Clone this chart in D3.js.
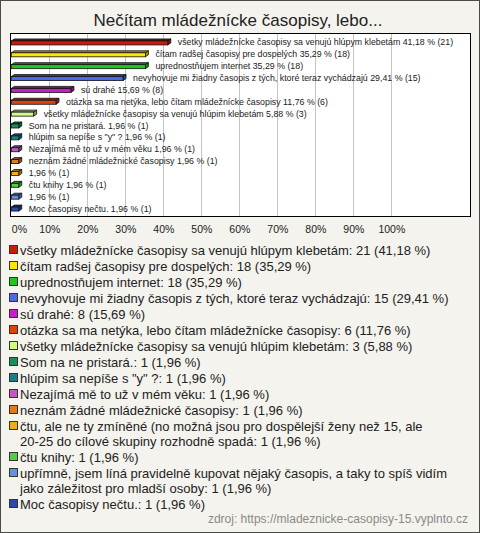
<!DOCTYPE html>
<html><head><meta charset="utf-8">
<script src="https://cdn.jsdelivr.net/npm/d3@7"></script>
<style>
html,body{margin:0;padding:0;background:#fff;}
svg{display:block;font-family:"Liberation Sans",Arial,sans-serif;}
</style></head>
<body>
<svg id="c" width="480" height="533"></svg>
<script>
const title = "Nečítam mládežnícke časopisy, lebo...";
const categories = [
  "všetky mládežnícke časopisy sa venujú hlúpym klebetám",
  "čítam radšej časopisy pre dospelých",
  "uprednostňujem internet",
  "nevyhovuje mi žiadny časopis z tých, ktoré teraz vychádzajú",
  "sú drahé",
  "otázka sa ma netýka, lebo čítam mládežnícke časopisy",
  "všetky mládežnícke časopisy sa venujú hlúpim klebetám",
  "Som na ne pristará.",
  "hlúpim sa nepíše s \"y\" ?",
  "Nezajímá mě to už v mém věku",
  "neznám žádné mládežnické časopisy",
  "čtu, ale ne ty zmíněné (no možná jsou pro dospělejší ženy než 15, ale 20-25 do cílové skupiny rozhodně spadá",
  "čtu knihy",
  "upřímně, jsem líná pravidelně kupovat nějaký časopis, a taky to spíš vidím jako záležitost pro mladší osoby",
  "Moc časopisy nečtu."
];
const barNames = [
  "všetky mládežnícke časopisy sa venujú hlúpym klebetám",
  "čítam radšej časopisy pre dospelých",
  "uprednostňujem internet",
  "nevyhovuje mi žiadny časopis z tých, ktoré teraz vychádzajú",
  "sú drahé",
  "otázka sa ma netýka, lebo čítam mládežnícke časopisy",
  "všetky mládežnícke časopisy sa venujú hlúpim klebetám",
  "Som na ne pristará.",
  "hlúpim sa nepíše s \"y\" ?",
  "Nezajímá mě to už v mém věku",
  "neznám žádné mládežnické časopisy",
  "",
  "čtu knihy",
  "",
  "Moc časopisy nečtu."
];
const counts = [21, 18, 18, 15, 8, 6, 3, 1, 1, 1, 1, 1, 1, 1, 1];
const percents = [41.18, 35.29, 35.29, 29.41, 15.69, 11.76, 5.88, 1.96, 1.96, 1.96, 1.96, 1.96, 1.96, 1.96, 1.96];
const colors = ["#cc1a0c","#ffe600","#1ec81e","#4a6ae6","#c81ec8","#e0420f","#d2f88a","#1f8c5a","#1f7a8c","#bb5cc4","#e07a1e","#e8b212","#4cd23e","#6590e2","#2a4aa8"];
const tickValues = [0,10,20,30,40,50,60,70,80,90,100];
const source = "zdroj: https://mladeznicke-casopisy-15.vyplnto.cz";

const fmt = v => v.toFixed(2).replace(".", ",");
const svg = d3.select("#c");
const FONT = '"Liberation Sans",Arial,sans-serif';

// background + outer frame
svg.append("rect").attr("x",0.5).attr("y",0.5).attr("width",479).attr("height",532)
  .attr("fill","#f4f3ee").attr("stroke","#4a4a4a");

svg.append("text").attr("x",238).attr("y",26).attr("text-anchor","middle")
  .attr("font-size",17).attr("fill","#222").text(title);

// plot area
const box = {x:10.5, y:33.5, w:460, h:183};
svg.append("rect").attr("x",box.x).attr("y",box.y).attr("width",box.w).attr("height",box.h)
  .attr("fill","#fff");

const x = d3.scaleLinear().domain([0,100]).range([11.3, 391.3]);
const y = d3.scaleBand().domain(d3.range(categories.length)).range([36, 214]);

// grid
svg.append("g").selectAll("line").data(tickValues.filter(v=>v>0)).join("line")
  .attr("x1",d=>Math.round(x(d))+0.5).attr("x2",d=>Math.round(x(d))+0.5)
  .attr("y1",box.y).attr("y2",box.y+box.h)
  .attr("stroke","#c4c4c4").attr("stroke-width",1);

// bars (pseudo 3D)
const dx = 3, dy = 2;
const bars = svg.append("g").selectAll("g").data(percents).join("g");
bars.each(function(v,i){
  const g = d3.select(this);
  const c = y(i) + y.bandwidth()/2 + 1;
  const x0 = x(0), x1 = x(v);
  const col = colors[i];
  const dark = d3.color(col).darker(1.2);
  // top face
  g.append("path").attr("d",`M${x0},${c-2}L${x0+dx},${c-2-dy}L${x1+dx},${c-2-dy}L${x1},${c-2}Z`)
    .attr("fill",dark).attr("stroke","#111").attr("stroke-width",0.8);
  // side face
  g.append("path").attr("d",`M${x1},${c-2}L${x1+dx},${c-2-dy}L${x1+dx},${c+2-dy}L${x1},${c+2}Z`)
    .attr("fill",dark).attr("stroke","#111").attr("stroke-width",0.8);
  // front
  g.append("rect").attr("x",x0).attr("y",c-2).attr("width",x1-x0).attr("height",4)
    .attr("fill",col).attr("stroke","#111").attr("stroke-width",0.8);
  const nm = barNames[i];
  g.append("text").attr("x",x1+10).attr("y",c+2.5).attr("font-size",8.8).attr("fill","#222")
    .text((nm? nm+" ":"") + fmt(v) + " % (" + counts[i] + ")");
});

svg.append("rect").attr("x",box.x).attr("y",box.y).attr("width",box.w).attr("height",box.h)
  .attr("fill","none").attr("stroke","#000");

// axis tick labels
const axis = d3.axisBottom(x).tickValues(tickValues).tickSize(0).tickFormat(d=>d+"%");
const ag = svg.append("g").attr("transform","translate(0,224)").call(axis);
ag.select(".domain").remove();
ag.selectAll("text").attr("font-size",10.5).attr("font-family",FONT).attr("fill","#222").attr("dy","0.6em");
ag.selectAll(".tick").filter(d=>d===0).select("text").attr("text-anchor","start");

// legend
const lg = svg.append("g");
let ly = 250;
const maxW = 452;
categories.forEach((name,i)=>{
  const full = name + ": " + counts[i] + " (" + fmt(percents[i]) + " %)";
  lg.append("rect").attr("x",9.5).attr("y",ly-4.5).attr("width",8).attr("height",8)
    .attr("fill",colors[i]).attr("stroke","#333");
  const t = lg.append("text").attr("x",20).attr("y",ly+4.5).attr("font-size",13).attr("fill","#222");
  const words = full.split(" ");
  let line = [], lines = 0;
  let ts = t.append("tspan").attr("x",20).attr("dy",0);
  words.forEach(w=>{
    line.push(w);
    ts.text(line.join(" "));
    if (ts.node().getComputedTextLength() > maxW - 20 && line.length>1){
      line.pop(); ts.text(line.join(" "));
      line = [w]; lines++;
      ts = t.append("tspan").attr("x",20).attr("dy",15).text(w);
    }
  });
  ly += 16 + 15*lines;
});

svg.append("text").attr("x",468).attr("y",523).attr("text-anchor","end")
  .attr("font-size",12).attr("fill","#8a8a8a").text(source);
</script>
</body></html>
